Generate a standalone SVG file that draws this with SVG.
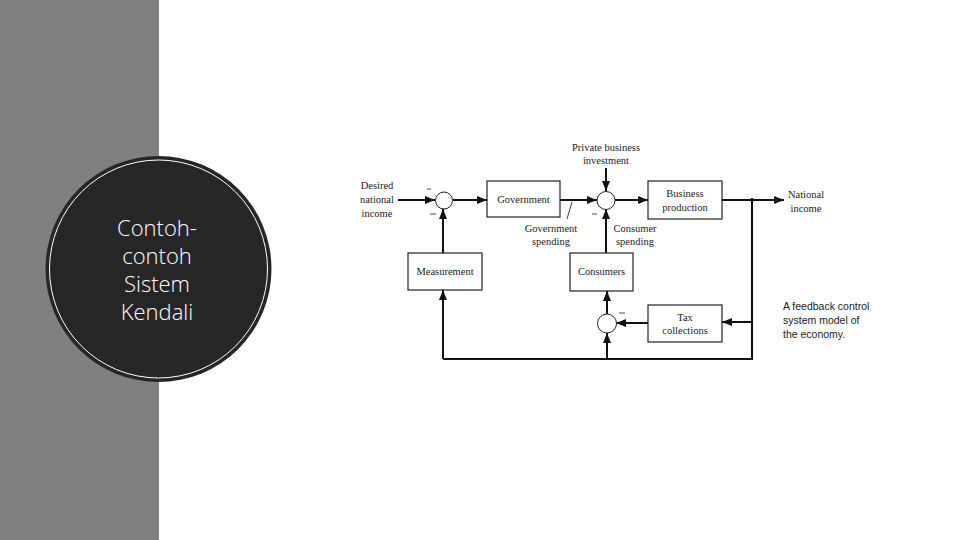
<svg xmlns="http://www.w3.org/2000/svg" width="960" height="540" viewBox="0 0 960 540">
<defs>
<marker id="ah" viewBox="0 0 10 10" refX="10" refY="5" markerWidth="5" markerHeight="5" orient="auto" markerUnits="strokeWidth">
<path d="M0,1 L10,5 L0,9 Z" fill="#111"/>
</marker>
<style>
.ser{font-family:"Liberation Serif","Times New Roman",serif;font-size:10.5px;fill:#222;text-anchor:middle}
.box{fill:#fff;stroke:#222;stroke-width:1.2}
.sum{fill:#fff;stroke:#222;stroke-width:1}
.ln{fill:none;stroke:#111;stroke-width:2}
.arr{fill:none;stroke:#111;stroke-width:2;marker-end:url(#ah)}
.ttl{font-family:"Open Sans","Segoe UI","DejaVu Sans",sans-serif;font-weight:300;font-size:22px;fill:#fff;text-anchor:middle}
.cap{font-family:"Liberation Sans",Arial,sans-serif;font-size:10.5px;fill:#222}
</style>
</defs>
<rect x="0" y="0" width="960" height="540" fill="#fff"/>
<rect x="0" y="0" width="159" height="540" fill="#808080"/>
<g id="title">
<circle cx="158.5" cy="269" r="113" fill="#262626"/>
<circle cx="158.5" cy="269" r="109" fill="none" stroke="#fff" stroke-width="1"/>
<text class="ttl" x="157" y="236">Contoh-</text>
<text class="ttl" x="157" y="264">contoh</text>
<text class="ttl" x="157" y="292">Sistem</text>
<text class="ttl" x="157" y="320">Kendali</text>
</g>
<g id="connectors">
<line class="arr" x1="398" y1="200" x2="435" y2="200"/>
<line class="arr" x1="453" y1="200" x2="487" y2="200"/>
<line class="arr" x1="560" y1="200" x2="597" y2="200"/>
<line class="arr" x1="615" y1="200" x2="648" y2="200"/>
<line class="arr" x1="722" y1="200" x2="784" y2="200"/>
<line class="arr" x1="606" y1="168" x2="606" y2="191"/>
<line class="arr" x1="606" y1="253" x2="606" y2="209"/>
<line class="arr" x1="443" y1="253" x2="443" y2="209"/>
<polyline class="ln" points="752,200 752,359 443,359"/>
<line class="arr" x1="443" y1="359" x2="443" y2="290"/>
<line class="arr" x1="607" y1="359" x2="607" y2="333"/>
<line class="arr" x1="607" y1="314" x2="607" y2="291"/>
<line class="arr" x1="752" y1="322" x2="722" y2="322"/>
<line class="arr" x1="648" y1="323" x2="616" y2="323"/>
<circle cx="752" cy="200" r="2" fill="#111"/>
<line x1="572" y1="202" x2="567" y2="219" stroke="#222" stroke-width="0.9"/>
</g>
<g id="sum1"><circle class="sum" cx="444" cy="200.5" r="8.5"/></g>
<g id="sum2"><circle class="sum" cx="606" cy="200.5" r="9"/></g>
<g id="sum3"><circle class="sum" cx="607" cy="323.5" r="9.5"/></g>
<g id="government"><rect class="box" x="487" y="181" width="73" height="36"/><text class="ser" x="523.5" y="203">Government</text></g>
<g id="business"><rect class="box" x="648" y="181" width="74" height="38"/><text class="ser" x="685" y="197">Business</text><text class="ser" x="685" y="211">production</text></g>
<g id="measurement"><rect class="box" x="408" y="253" width="74" height="37"/><text class="ser" x="445" y="275">Measurement</text></g>
<g id="consumers"><rect class="box" x="570" y="253" width="63" height="38"/><text class="ser" x="601.5" y="275">Consumers</text></g>
<g id="tax"><rect class="box" x="648" y="305" width="74" height="37"/><text class="ser" x="685" y="321">Tax</text><text class="ser" x="685" y="334">collections</text></g>
<g id="labels">
<text class="ser" x="377" y="189">Desired</text>
<text class="ser" x="377" y="203">national</text>
<text class="ser" x="377" y="217">income</text>
<text class="ser" x="606" y="151">Private business</text>
<text class="ser" x="606" y="164">investment</text>
<text class="ser" x="551" y="232">Government</text>
<text class="ser" x="551" y="245">spending</text>
<text class="ser" x="635" y="232">Consumer</text>
<text class="ser" x="635" y="245">spending</text>
<text class="ser" x="806" y="198">National</text>
<text class="ser" x="806" y="212">income</text>
<line x1="427" y1="189" x2="431" y2="189" stroke="#333" stroke-width="0.9"/>
<line x1="430" y1="214" x2="436" y2="214" stroke="#333" stroke-width="0.9"/>
<line x1="592" y1="214" x2="597" y2="214" stroke="#333" stroke-width="0.9"/>
<line x1="619" y1="313" x2="625" y2="313" stroke="#333" stroke-width="0.9"/>
<text class="cap" x="783" y="310">A feedback control</text>
<text class="cap" x="783" y="324">system model of</text>
<text class="cap" x="783" y="338">the economy.</text>
</g>
</svg>
